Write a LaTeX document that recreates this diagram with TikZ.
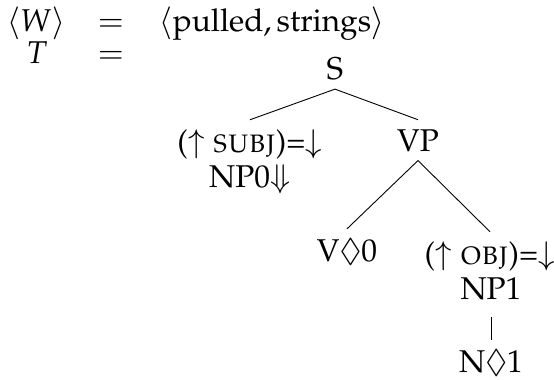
\documentclass[tikz,border=0pt]{standalone}
\usepackage[T1]{fontenc}
\usepackage{mathpazo}
\usepackage{amssymb}
\usetikzlibrary{positioning}

\begin{document}
\begin{tikzpicture}[
    x=0.4444pt, y=-0.4444pt,
    font=\fontsize{14}{16}\selectfont,
    txt/.style={anchor=base, inner sep=0pt},
    cat/.style={anchor=base, inner sep=4pt},
    branch/.style={thin}
  ]
  \useasboundingbox (0,0) rectangle (554,379);

  % word string and tree, set as two aligned rows
  \node[txt] (w)   at (36,31)  {$\langle W\rangle$};
  \node[txt] (eqw) at (111,31) {$=$};
  \node[txt, anchor=base west] (str) at (159,31) {$\langle\mbox{pulled}, \mbox{strings}\rangle$};
  \node[txt] (t)   at (37,63)  {$T$};
  \node[txt] (eqt) at (111,63) {$=$};

  % c-structure, each f-annotation sits above its category
  \node[cat] (s)    at (335,79)  {S};
  \node[cat] (subj) at (250,152) {($\uparrow$ \textsc{subj})=$\downarrow$};
  \node[cat] (np0)  at (250,187) {NP0$\Downarrow$};
  \node[cat] (vp)   at (418,151) {VP};
  \node[cat] (v0)   at (347,261) {V$\lozenge$0};
  \node[cat] (obj)  at (490,264) {($\uparrow$ \textsc{obj})=$\downarrow$};
  \node[cat] (np1)  at (491,299) {NP1};
  \node[cat] (n1)   at (491,372) {N$\lozenge$1};

  \draw[branch] (s.south) -- (subj.north);
  \draw[branch] (s.south) -- (vp.north);
  \draw[branch] (vp.south) -- (v0.north);
  \draw[branch] (vp.south) -- (obj.north);
  \draw[branch, shorten <=3.5pt] (np1.south) -- (n1.north);
\end{tikzpicture}
\end{document}
